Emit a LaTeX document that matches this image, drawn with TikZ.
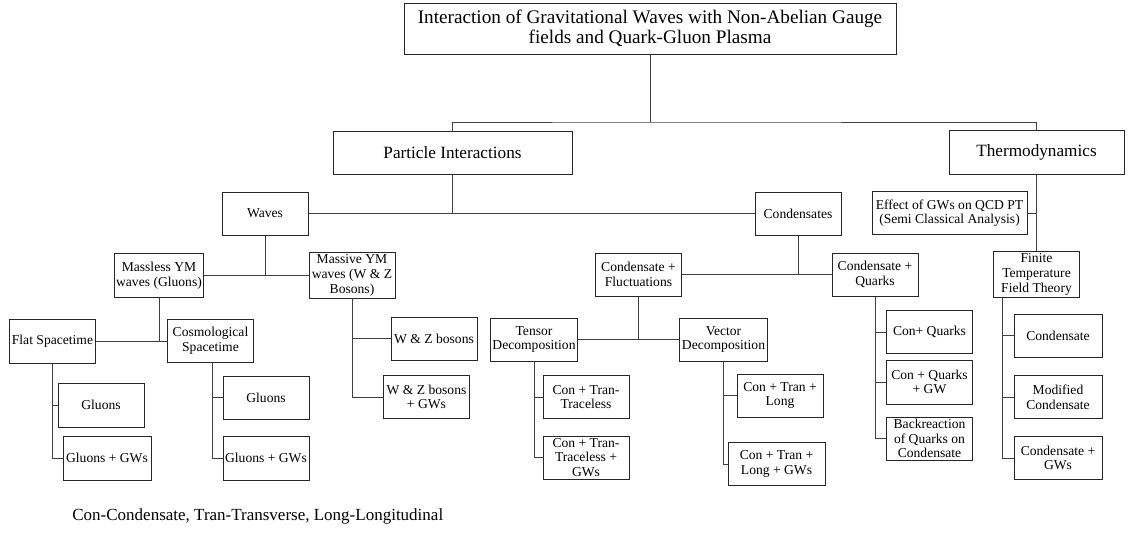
\documentclass[tikz,border=0pt]{standalone}
\usepackage{fontspec}
\setmainfont{Liberation Serif}
\usetikzlibrary{positioning}

\begin{document}
\begin{tikzpicture}[x=0.5pt,y=-0.5pt,
    box/.style={draw=black!85,line width=0.5pt,align=center,inner sep=1pt,
        minimum width=43pt,minimum height=21.5pt,font=\fontsize{6.8}{7.3}\selectfont},
    bigbox/.style={box,font=\fontsize{8.6}{9.6}\selectfont},
    link/.style={draw=black!75,line width=0.5pt}]
    \useasboundingbox (0,0) rectangle (1130,537);

    \node[bigbox,minimum width=246pt,minimum height=25.5pt,font=\fontsize{9.6}{10.2}\selectfont] (title) at (650,28.5) {Interaction of Gravitational Waves with Non-Abelian Gauge\\fields and Quark-Gluon Plasma};
    \node[bigbox,minimum width=119.5pt] (particle) at (452.5,152.5) {Particle Interactions};
    \node[bigbox,minimum width=87.5pt,minimum height=22pt] (thermo) at (1036.5,152) {Thermodynamics};

    \node[box] (waves) at (265,213.5) {Waves};
    \node[box] (condensates) at (798,213.5) {Condensates};
    \node[box,minimum width=77.5pt] (effect) at (949.5,213) {Effect of GWs on QCD PT\\(Semi Classical Analysis)};
    \node[box,minimum height=22pt] (finite) at (1036.5,274.5) {Finite\\Temperature\\Field Theory};

    \node[box,minimum height=22pt] (massless) at (159,275.5) {Massless YM\\waves (Gluons)};
    \node[box,minimum height=22pt] (massive) at (352,275.5) {Massive YM\\waves (W \& Z\\Bosons)};
    \node[box,minimum height=22pt] (flat) at (52.5,341) {Flat Spacetime};
    \node[box] (cosmo) at (210.5,341) {Cosmological\\Spacetime};

    \node[box,minimum height=22pt] (gluonsA) at (101,405) {Gluons};
    \node[box,minimum width=44pt,minimum height=22pt] (gluonsGwA) at (107,458) {Gluons + GWs};
    \node[box] (gluonsB) at (266,397.5) {Gluons};
    \node[box,minimum height=22pt] (gluonsGwB) at (266,458) {Gluons + GWs};

    \node[box] (bosons) at (434,338.5) {W \& Z bosons};
    \node[box] (bosonsGw) at (426.5,397) {W \& Z bosons\\+ GWs};

    \node[box] (fluct) at (638.5,274.5) {Condensate +\\Fluctuations};
    \node[box] (quarks) at (875,274.5) {Condensate +\\Quarks};
    \node[box] (tensor) at (534,339.5) {Tensor\\Decomposition};
    \node[box] (vector) at (723.5,339.5) {Vector\\Decomposition};

    \node[box] (traceless) at (586,397) {Con + Tran-\\Traceless};
    \node[box] (tracelessGw) at (586,457.5) {Con + Tran-\\Traceless +\\GWs};
    \node[box] (long) at (780,395.5) {Con + Tran +\\Long};
    \node[box,minimum width=48.5pt] (longGw) at (776.5,464) {Con + Tran +\\Long + GWs};

    \node[box] (conQuarks) at (929.5,332) {Con+ Quarks};
    \node[box,minimum height=22pt] (conQuarksGw) at (929.5,382) {Con + Quarks\\+ GW};
    \node[box] (backreaction) at (929.5,438.5) {Backreaction\\of Quarks on\\Condensate};

    \node[box,minimum width=44pt] (condensate) at (1058,335.5) {Condensate};
    \node[box,minimum width=44pt] (modified) at (1058,397) {Modified\\Condensate};
    \node[box,minimum width=44pt] (condensateGw) at (1058,458) {Condensate +\\GWs};

    \node[anchor=base west,inner sep=0pt,font=\fontsize{8.5}{9.5}\selectfont] (legend) at (72,520) {Con-Condensate, Tran-Transverse, Long-Longitudinal};

    % top level
    \coordinate (bus) at (650,122);
    \draw[link] (title.south) -- (bus);
    \draw[link] (particle.north) |- (bus) -| (thermo.north);

    % particle interactions
    \draw[link] (waves) -- (condensates);
    \draw[link] (particle.south) -- (particle.south |- waves.east);

    % waves
    \draw[link] (massless) -- (massive);
    \draw[link] (waves.south) -- (waves.south |- massless.east);
    \draw[link] (flat) -- (cosmo);
    \draw[link] (massless.south) -- (massless.south |- flat.east);
    \draw[link] (flat.south) |- (gluonsA.west);
    \draw[link] (flat.south) |- (gluonsGwA.west);
    \draw[link] ([xshift=0.75pt]cosmo.south) |- (gluonsB.west);
    \draw[link] ([xshift=0.75pt]cosmo.south) |- (gluonsGwB.west);
    \draw[link] (massive.south) |- (bosons.west);
    \draw[link] (massive.south) |- (bosonsGw.west);

    % condensates
    \draw[link] (fluct) -- (quarks);
    \draw[link] (condensates.south) -- (condensates.south |- fluct.east);
    \draw[link] (tensor) -- (vector);
    \draw[link] (fluct.south) -- (fluct.south |- tensor.east);
    \draw[link] (tensor.south) |- (traceless.west);
    \draw[link] (tensor.south) |- (tracelessGw.west);
    \draw[link] (vector.south) |- (long.west);
    \draw[link] (vector.south) |- (longGw.west);
    \draw[link] (quarks.south) |- (conQuarks.west);
    \draw[link] (quarks.south) |- (conQuarksGw.west);
    \draw[link] (quarks.south) |- (backreaction.west);

    % thermodynamics
    \draw[link] (thermo.south) -- (finite.north);
    \draw[link] (effect.east) -- (effect.east -| thermo.south);
    \draw[link] ([xshift=4.5pt]finite.south west) |- (condensate.west);
    \draw[link] ([xshift=4.5pt]finite.south west) |- (modified.west);
    \draw[link] ([xshift=4.5pt]finite.south west) |- (condensateGw.west);
\end{tikzpicture}
\end{document}
